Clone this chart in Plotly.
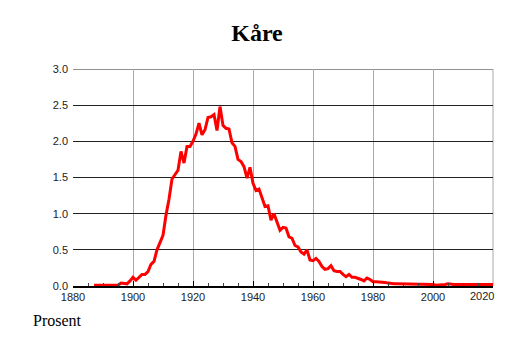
import plotly.graph_objects as go

years = list(range(1887, 2021))
values = [
    0.01, 0.01, 0.02, 0.02, 0.01, 0.02, 0.01, 0.01, 0.01, 0.04,  # 1887-1896
    0.04, 0.03, 0.07, 0.12, 0.08, 0.12, 0.16, 0.16, 0.20, 0.30,  # 1897-1906
    0.34, 0.50, 0.60, 0.70, 0.98, 1.20, 1.48, 1.55, 1.60, 1.86,  # 1907-1916
    1.70, 1.93, 1.93, 2.00, 2.10, 2.25, 2.09, 2.16, 2.33, 2.34,  # 1917-1926
    2.37, 2.15, 2.48, 2.22, 2.18, 2.17, 1.98, 1.93, 1.75, 1.72,  # 1927-1936
    1.65, 1.49, 1.64, 1.42, 1.32, 1.34, 1.23, 1.10, 1.11, 0.91,  # 1937-1946
    1.00, 0.87, 0.77, 0.81, 0.80, 0.68, 0.66, 0.56, 0.54, 0.47,  # 1947-1956
    0.44, 0.50, 0.36, 0.35, 0.38, 0.34, 0.27, 0.23, 0.24, 0.28,  # 1957-1966
    0.21, 0.20, 0.20, 0.16, 0.13, 0.16, 0.12, 0.12, 0.11, 0.09,  # 1967-1976
    0.07, 0.11, 0.09, 0.06, 0.06, 0.06, 0.06, 0.05, 0.04, 0.03,  # 1977-1986
    0.03, 0.03, 0.03, 0.03, 0.02, 0.03, 0.03, 0.03, 0.02, 0.03,  # 1987-1996
    0.02, 0.02, 0.02, 0.02, 0.01, 0.01, 0.01, 0.02, 0.03, 0.02,  # 1997-2006
    0.02, 0.02, 0.02, 0.02, 0.02, 0.02, 0.02, 0.02, 0.03, 0.02,  # 2007-2016
    0.02, 0.02, 0.03, 0.02,                                      # 2017-2020
]
x_ticks = [1880, 1900, 1920, 1940, 1960, 1980, 2000, 2020]
y_ticks = [0.0, 0.5, 1.0, 1.5, 2.0, 2.5, 3.0]

fig = go.Figure()
fig.add_trace(go.Scatter(x=years, y=values, mode="lines",
                         line=dict(color="#ff0000", width=3), hoverinfo="skip"))

fig.update_layout(
    width=514, height=343,
    margin=dict(l=73, r=21, t=69, b=57),
    paper_bgcolor="white", plot_bgcolor="white",
    showlegend=False,
    title=dict(text="<b>Kåre</b>", x=0.5, xanchor="center", y=1 - 33 / 343, yanchor="middle",
               font=dict(family="Liberation Serif, Times New Roman", size=24, color="black")),
    font=dict(family="Liberation Sans, Arial", size=11, color="#222"),
)
fig.update_xaxes(
    range=[1880, 2020], tickvals=x_ticks,
    ticktext=[str(t) if t != 2020 else "" for t in x_ticks],
    showgrid=True, gridcolor="#aaaaaa", gridwidth=1,
    showline=True, linecolor="black", linewidth=1.5,
    ticks="inside", ticklen=5, tickcolor="black",
    minor=dict(dtick=5, ticks="inside", ticklen=3, tickcolor="#444", showgrid=False),
    zeroline=False, tickfont=dict(size=11, color="#222"),
)
fig.update_yaxes(
    range=[0, 3.0], tickvals=y_ticks, ticktext=[f"{v:.1f}" for v in y_ticks],
    showgrid=True, gridcolor="#222222", gridwidth=1,
    showline=False, zeroline=False, ticks="", ticklabelstandoff=4,
    tickfont=dict(size=11, color="#222"),
)
# top gridline (3.0) and right border gridline (2020) at the plot edges
fig.add_shape(type="line", xref="paper", yref="y", x0=0, x1=1, y0=y_ticks[-1], y1=y_ticks[-1],
              line=dict(color="#222222", width=1), layer="below")
fig.add_shape(type="line", xref="paper", yref="paper", x0=1, x1=1, y0=0, y1=1,
              line=dict(color="#aaaaaa", width=1), layer="below")
# 2020 label shifted left to stay inside, as in the reference
fig.add_annotation(text="2020", xref="paper", yref="paper", x=(481.5 - 73) / 420, y=-0.045,
                   xanchor="center", yanchor="middle", showarrow=False,
                   font=dict(family="Liberation Sans, Arial", size=11, color="#222"))
fig.add_annotation(text="Prosent", xref="paper", yref="paper", x=(31 - 73) / 420,
                   y=(286 - 320) / 217, xanchor="left", yanchor="middle", showarrow=False,
                   font=dict(family="Liberation Serif, Times New Roman", size=16, color="black"))

fig.write_html("out.html")
